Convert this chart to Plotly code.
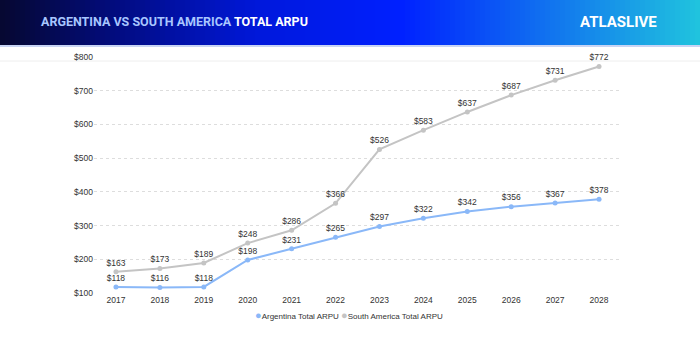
import plotly.graph_objects as go

years = ["2017", "2018", "2019", "2020", "2021", "2022", "2023", "2024", "2025", "2026", "2027", "2028"]
argentina = [118, 116, 118, 198, 231, 265, 297, 322, 342, 356, 367, 378]
south_america = [163, 173, 189, 248, 286, 366, 526, 583, 637, 687, 731, 772]
y_ticks = [100, 200, 300, 400, 500, 600, 700, 800]
y_tick_labels = ["$" + str(v) for v in y_ticks]
series_names = ["Argentina Total ARPU", "South America Total ARPU"]

W, H = 700, 350
L, R, T, B = 94, 79, 57, 57
PW = W - L - R
PH = H - T - B

def px(x):
    return (x - L) / PW

def py(y):
    return (H - B - y) / PH

ARG_C = "#8ab8f8"
SA_C = "#c4c4c4"

fig = go.Figure()
for name, vals, c in [(series_names[0], argentina, ARG_C), (series_names[1], south_america, SA_C)]:
    fig.add_trace(go.Scatter(
        x=years, y=vals, name=name, mode="lines+markers+text", showlegend=False,
        line=dict(color=c, width=2), marker=dict(size=5, color=c),
        text=["$" + str(v) for v in vals], textposition="top center",
        textfont=dict(size=8.5, color="#333333", family="Arial, Liberation Sans"),
        cliponaxis=False))

shapes = []
stops = [(0, (6, 8, 48)), (120, (2, 12, 130)), (260, (0, 24, 220)), (400, (0, 32, 255)),
         (540, (16, 110, 240)), (700, (32, 196, 222))]

def col(x):
    for (x0, c0), (x1, c1) in zip(stops[:-1], stops[1:]):
        if x0 <= x <= x1:
            t = (x - x0) / (x1 - x0)
            return "rgb(%d,%d,%d)" % tuple(round(a + (b - a) * t) for a, b in zip(c0, c1))
    return "rgb(%d,%d,%d)" % stops[-1][1]

step = 5
for x in range(0, W, step):
    shapes.append(dict(type="rect", xref="paper", yref="paper", x0=px(x), x1=px(x + step + 0.5),
                       y0=py(45), y1=py(0), fillcolor=col(x + step / 2), line=dict(width=0), layer="below"))
shapes.append(dict(type="rect", xref="paper", yref="paper", x0=px(0), x1=px(W), y0=py(47), y1=py(45),
                   fillcolor="#c8d4f4", line=dict(width=0)))
shapes.append(dict(type="line", xref="paper", yref="paper", x0=px(0), x1=px(W), y0=py(61), y1=py(61),
                   line=dict(color="#eeeeee", width=1), layer="below"))

legend_text = ("<span style='color:%s;font-size:11px'>●</span>%s <span style='color:%s;font-size:11px'>●</span>%s"
               % (ARG_C, series_names[0], SA_C, series_names[1]))

fig.update_layout(
    width=W, height=H, margin=dict(l=L, r=R, t=T, b=B),
    paper_bgcolor="white", plot_bgcolor="white",
    font=dict(family="Arial, Liberation Sans", size=8, color="#333333"),
    shapes=shapes,
    showlegend=False,
    xaxis=dict(type="category", range=[-0.5, 11.5], showgrid=False, showline=False, zeroline=False,
               ticks="", tickfont=dict(size=8.5, color="#333333")),
    yaxis=dict(range=[100, 800], tickvals=y_ticks, ticktext=y_tick_labels, showgrid=True,
               gridcolor="#dddddd", griddash="dot", gridwidth=1, zeroline=False, showline=False,
               ticks="", tickfont=dict(size=8.5, color="#333333")),
    annotations=[
        dict(text="<span style='color:#a8c6ff'>ARGENTINA VS SOUTH AMERICA</span> <span style='color:#ffffff'>TOTAL ARPU</span>",
             xref="paper", yref="paper", x=px(39), y=py(22), xanchor="left", yanchor="middle",
             showarrow=False, font=dict(family="Roboto, Liberation Sans, Arial", size=12.5, weight="bold")),
        dict(text="ATLASLIVE", xref="paper", yref="paper", x=px(618), y=py(22),
             xanchor="center", yanchor="middle", showarrow=False,
             font=dict(family="Roboto, Liberation Sans, Arial", size=15, color="white", weight="bold")),
        dict(text=legend_text, xref="paper", yref="paper", x=px(349), y=py(315),
             xanchor="center", yanchor="middle", showarrow=False,
             font=dict(family="Arial, Liberation Sans", size=8, color="#333333")),
    ],
)

fig.write_html("out.html")
